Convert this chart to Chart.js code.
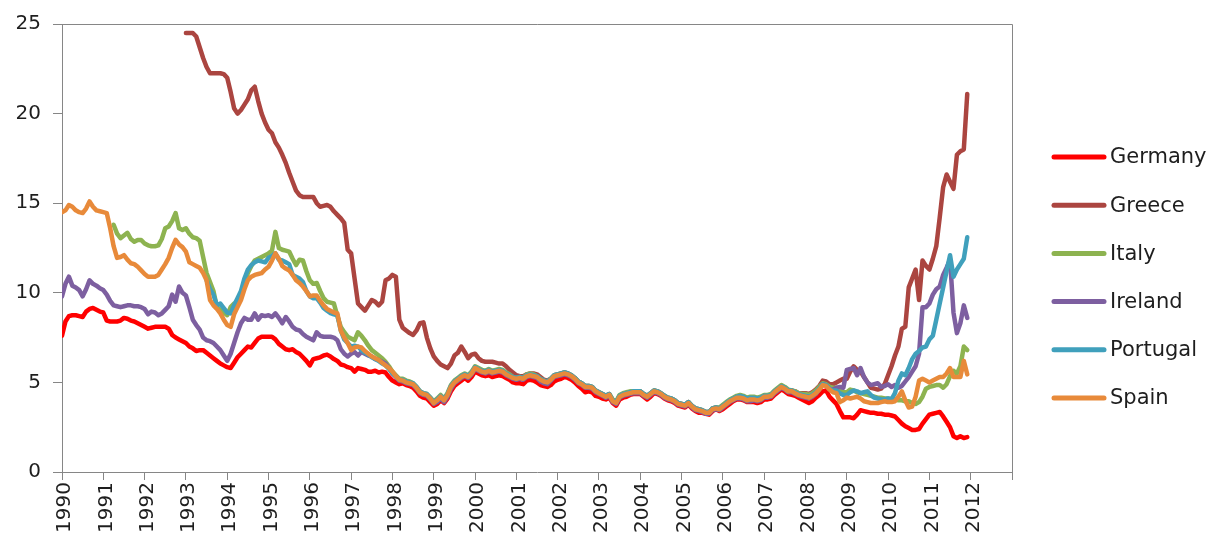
<!DOCTYPE html>
<html>
<head>
<meta charset="utf-8">
<script src="https://cdn.jsdelivr.net/npm/chart.js@4.4.0/dist/chart.umd.min.js"></script>
<style>
  html, body { margin: 0; padding: 0; background: #fff; }
  #wrap { width: 1218px; height: 546px; position: relative; }
</style>
</head>
<body>
<div id="wrap"><canvas id="yieldChart"></canvas></div>
<script>
// --- Monthly long-term government bond yields (%), Jan 1990 - Dec 2011 ---
const firstYear = 1990;
const lastYear = 2013;          // last tick on the axis, no label
const yMin = 0, yMax = 25, yStep = 5;

const countries = ['Germany', 'Greece', 'Italy', 'Ireland', 'Portugal', 'Spain'];
const lineColors = ['#ff0000', '#ab4540', '#8db350', '#7d5fa0', '#40a0bc', '#e88a3a'];
// first month of each series, as a fractional year
const seriesStart = [1990, 1993, 1991.25, 1990, 1993.5, 1990];

const germany = [
  7.6, 8.4, 8.7, 8.75, 8.75, 8.7, 8.65, 8.95, 9.1, 9.15, 9.05, 8.95,
  8.9, 8.45, 8.4, 8.4, 8.4, 8.45, 8.6, 8.55, 8.45, 8.4, 8.3, 8.2,
  8.1, 8.0, 8.05, 8.1, 8.1, 8.1, 8.1, 8.0, 7.65, 7.5, 7.4, 7.3,
  7.2, 7.0, 6.9, 6.75, 6.8, 6.8, 6.65, 6.5, 6.35, 6.2, 6.05, 5.95,
  5.85, 5.8, 6.1, 6.4, 6.6, 6.8, 7.0, 6.95, 7.2, 7.45, 7.55, 7.55,
  7.55, 7.55, 7.4, 7.15, 7.0, 6.85, 6.8, 6.85, 6.7, 6.6, 6.4, 6.2,
  5.95, 6.3, 6.35, 6.4, 6.5, 6.55, 6.45, 6.3, 6.2, 6.0, 5.95, 5.85,
  5.8, 5.6, 5.8, 5.75, 5.7, 5.6, 5.6, 5.65, 5.55, 5.6, 5.55, 5.3,
  5.1, 5.0, 4.9, 4.95, 4.85, 4.8, 4.7, 4.5, 4.25, 4.15, 4.1, 3.9,
  3.7, 3.8, 4.0, 3.85, 4.1, 4.5, 4.8, 4.95, 5.1, 5.25, 5.1, 5.3,
  5.6, 5.5, 5.4, 5.35, 5.4, 5.3, 5.35, 5.4, 5.35, 5.25, 5.15, 5.0,
  4.95, 4.95, 4.9, 5.1, 5.15, 5.1, 5.0, 4.85, 4.8, 4.75, 4.85, 5.05,
  5.15, 5.2, 5.3, 5.25, 5.15, 5.0, 4.8, 4.65, 4.45, 4.5, 4.45, 4.25,
  4.2, 4.1, 4.05, 4.15, 3.85, 3.7, 4.05, 4.15, 4.2, 4.3, 4.35, 4.35,
  4.35, 4.2, 4.05, 4.2, 4.4, 4.35, 4.25, 4.1, 4.0, 3.95, 3.85, 3.7,
  3.65, 3.6, 3.75, 3.55, 3.4, 3.3, 3.3, 3.25, 3.2, 3.4, 3.5, 3.4,
  3.5, 3.65, 3.8, 3.95, 4.05, 4.05, 4.0, 3.9, 3.9, 3.9, 3.85, 3.9,
  4.05, 4.05, 4.1, 4.3, 4.45, 4.6, 4.5, 4.35, 4.3, 4.25, 4.15, 4.05,
  3.95, 3.85, 3.95, 4.15, 4.3, 4.5, 4.55, 4.2, 4.0, 3.8, 3.4, 3.05,
  3.05, 3.05, 3.0, 3.2, 3.45, 3.4, 3.35, 3.3, 3.3, 3.25, 3.25, 3.2,
  3.2, 3.15, 3.1, 2.9, 2.7, 2.55, 2.45, 2.35, 2.35, 2.4, 2.7, 2.95,
  3.2, 3.25, 3.3, 3.35, 3.1, 2.8, 2.5, 2.0, 1.9, 2.0, 1.9, 1.95
];

const greece = [
  24.5, 24.5, 24.5, 24.3, 23.7, 23.1, 22.6, 22.25, 22.25, 22.25, 22.25, 22.2,
  22.0, 21.2, 20.3, 20.0, 20.2, 20.5, 20.8, 21.3, 21.5, 20.7, 20.0, 19.5,
  19.1, 18.9, 18.4, 18.1, 17.7, 17.25, 16.7, 16.2, 15.7, 15.45, 15.35, 15.35,
  15.35, 15.35, 15.0, 14.8, 14.85, 14.9, 14.8, 14.55, 14.35, 14.15, 13.9, 12.4,
  12.2, 10.8, 9.4, 9.2, 9.0, 9.3, 9.6, 9.5, 9.3, 9.5, 10.7, 10.8,
  11.0, 10.9, 8.5, 8.05, 7.9, 7.75, 7.65, 7.9, 8.3, 8.35, 7.5, 6.9,
  6.45, 6.2, 6.0, 5.9, 5.8, 6.05, 6.5, 6.65, 7.0, 6.7, 6.35, 6.55,
  6.6, 6.35, 6.2, 6.15, 6.15, 6.15, 6.1, 6.05, 6.05, 5.9, 5.7, 5.55,
  5.4, 5.35, 5.35, 5.45, 5.5, 5.5, 5.45, 5.3, 5.15, 5.1, 5.2, 5.4,
  5.45, 5.5, 5.55, 5.5, 5.4, 5.25, 5.05, 4.95, 4.8, 4.8, 4.75, 4.55,
  4.45, 4.35, 4.25, 4.35, 4.0, 3.9, 4.25, 4.35, 4.4, 4.45, 4.5, 4.5,
  4.5, 4.35, 4.25, 4.4, 4.55, 4.5, 4.4, 4.25, 4.15, 4.1, 4.0, 3.85,
  3.8, 3.75, 3.9, 3.7, 3.55, 3.5, 3.45, 3.35, 3.35, 3.55, 3.6, 3.55,
  3.7, 3.85, 4.0, 4.1, 4.2, 4.2, 4.15, 4.05, 4.1, 4.1, 4.05, 4.1,
  4.25, 4.25, 4.3, 4.5, 4.65, 4.8, 4.7, 4.55, 4.55, 4.5, 4.4, 4.4,
  4.4, 4.35, 4.45, 4.6, 4.8, 5.1, 5.05, 4.9, 4.9, 5.0, 5.1, 5.2,
  5.2, 5.6, 5.9, 5.7, 5.6, 5.3, 5.0, 4.7, 4.65, 4.6, 4.65, 4.9,
  5.4, 5.9, 6.5, 7.0, 8.0, 8.1, 10.3, 10.8, 11.3, 9.6, 11.8, 11.5,
  11.3, 11.9, 12.6, 14.2, 15.9, 16.6, 16.2, 15.8, 17.7, 17.9, 18.0, 21.1
];

const italy = [
  13.8, 13.3, 13.05, 13.2, 13.35, 13.0, 12.85, 12.95, 12.95,
  12.75, 12.65, 12.6, 12.6, 12.65, 13.0, 13.6, 13.7, 14.0, 14.45, 13.6, 13.5,
  13.6, 13.3, 13.1, 13.05, 12.9, 12.0, 11.1, 10.6, 10.1, 9.2, 9.05, 8.9,
  8.75, 9.2, 9.4, 9.4, 10.0, 10.6, 11.1, 11.5, 11.8, 11.9, 12.0, 12.1,
  12.2, 12.35, 13.4, 12.5, 12.4, 12.35, 12.3, 11.9, 11.55, 11.85, 11.8, 11.2,
  10.7, 10.5, 10.55, 10.1, 9.7, 9.5, 9.45, 9.4, 8.7, 8.1, 7.8, 7.55,
  7.45, 7.35, 7.8, 7.6, 7.35, 7.05, 6.8, 6.65, 6.5, 6.35, 6.15, 5.9,
  5.6, 5.4, 5.2, 5.2, 5.1, 5.05, 4.95, 4.75, 4.5, 4.4, 4.35, 4.15,
  3.95, 4.1, 4.3, 4.1, 4.4, 4.85, 5.1, 5.25, 5.4, 5.5, 5.4, 5.6,
  5.9, 5.8, 5.7, 5.65, 5.75, 5.65, 5.7, 5.75, 5.7, 5.55, 5.45, 5.3,
  5.25, 5.3, 5.25, 5.45, 5.5, 5.45, 5.35, 5.2, 5.1, 5.05, 5.2, 5.4,
  5.45, 5.5, 5.55, 5.5, 5.4, 5.25, 5.05, 4.95, 4.8, 4.8, 4.75, 4.55,
  4.45, 4.35, 4.25, 4.35, 4.05, 3.95, 4.3, 4.4, 4.45, 4.5, 4.5, 4.5,
  4.5, 4.35, 4.25, 4.4, 4.55, 4.5, 4.4, 4.25, 4.15, 4.1, 4.0, 3.85,
  3.8, 3.75, 3.9, 3.7, 3.55, 3.5, 3.45, 3.35, 3.35, 3.55, 3.6, 3.6,
  3.75, 3.9, 4.05, 4.15, 4.25, 4.3, 4.25, 4.15, 4.2, 4.2, 4.15, 4.2,
  4.3, 4.3, 4.35, 4.55, 4.7, 4.85, 4.75, 4.6, 4.55, 4.5, 4.4, 4.35,
  4.35, 4.3, 4.4, 4.55, 4.75, 4.95, 4.9, 4.75, 4.7, 4.7, 4.55, 4.45,
  4.45, 4.6, 4.55, 4.45, 4.4, 4.35, 4.3, 4.25, 4.2, 4.15, 4.15, 4.1,
  4.1, 4.05, 4.05, 4.0, 4.0, 3.95, 3.95, 3.85, 3.8, 3.9, 4.2, 4.65,
  4.75, 4.8, 4.85, 4.85, 4.7, 4.9, 5.35, 5.65, 5.5, 5.9, 7.0, 6.8
];

const ireland = [
  9.8, 10.5, 10.9, 10.4, 10.3, 10.15, 9.8, 10.2, 10.7, 10.5, 10.4, 10.25,
  10.15, 9.9, 9.55, 9.3, 9.25, 9.2, 9.25, 9.3, 9.3, 9.25, 9.25, 9.2,
  9.1, 8.8, 8.95, 8.9, 8.75, 8.85, 9.05, 9.25, 9.9, 9.5, 10.35, 10.0,
  9.85, 9.2, 8.5, 8.2, 7.95, 7.5, 7.35, 7.3, 7.2, 7.0, 6.8, 6.5,
  6.2, 6.6, 7.2, 7.8, 8.3, 8.6, 8.5, 8.5, 8.85, 8.5, 8.75, 8.7,
  8.75, 8.65, 8.85, 8.6, 8.3, 8.65, 8.4, 8.1, 7.95, 7.9, 7.7, 7.55,
  7.45, 7.35, 7.8, 7.6, 7.55, 7.55, 7.55, 7.5, 7.35, 6.85, 6.6, 6.45,
  6.6, 6.7, 6.5, 6.7, 6.6, 6.5, 6.45, 6.3, 6.25, 6.15, 6.05, 5.8,
  5.5, 5.3, 5.1, 5.05, 4.95, 4.9, 4.85, 4.65, 4.4, 4.3, 4.25, 4.05,
  3.8, 3.9, 4.1, 3.9, 4.2, 4.65, 4.95, 5.1, 5.25, 5.35, 5.25, 5.45,
  5.75, 5.65, 5.55, 5.5, 5.6, 5.5, 5.55, 5.6, 5.55, 5.4, 5.3, 5.2,
  5.15, 5.2, 5.15, 5.3, 5.35, 5.3, 5.25, 5.05, 4.95, 4.9, 5.1, 5.3,
  5.35, 5.4, 5.45, 5.4, 5.3, 5.15, 4.95, 4.85, 4.7, 4.7, 4.65, 4.45,
  4.35, 4.25, 4.15, 4.25, 3.9, 3.8, 4.15, 4.25, 4.3, 4.35, 4.4, 4.4,
  4.4, 4.25, 4.15, 4.3, 4.45, 4.4, 4.3, 4.15, 4.05, 4.0, 3.9, 3.75,
  3.7, 3.65, 3.8, 3.6, 3.45, 3.4, 3.35, 3.25, 3.25, 3.45, 3.5, 3.45,
  3.6, 3.75, 3.9, 4.0, 4.1, 4.1, 4.05, 3.95, 3.95, 4.0, 3.95, 4.0,
  4.15, 4.15, 4.2, 4.4, 4.55, 4.7, 4.6, 4.45, 4.45, 4.35, 4.25, 4.2,
  4.15, 4.1, 4.2, 4.35, 4.6, 4.9, 4.85, 4.6, 4.6, 4.7, 4.75, 4.7,
  5.7, 5.75, 5.8, 5.4, 5.8, 5.3, 5.0, 4.85, 4.9, 4.95, 4.75, 4.8,
  4.9, 4.75, 4.85, 4.7, 4.8, 5.05, 5.3, 5.6, 5.9, 6.6, 9.2, 9.2,
  9.4, 9.9, 10.2, 10.35, 11.0, 11.4, 11.85, 8.9, 7.75, 8.3, 9.3, 8.6
];

const portugal = [
  10.7, 10.2, 9.9, 9.3, 9.4, 9.15,
  8.9, 8.85, 9.3, 9.7, 10.1, 10.8, 11.3, 11.55, 11.7, 11.8, 11.75, 11.7,
  11.95, 12.05, 12.2, 11.85, 11.8, 11.7, 11.6, 11.0, 10.9, 10.8, 10.6, 10.1,
  9.8, 9.7, 9.7, 9.45, 9.15, 9.0, 8.87, 8.8, 8.75, 7.9, 7.4, 7.2,
  7.0, 7.05, 7.0, 6.8, 6.65, 6.55, 6.4, 6.3, 6.2, 6.05, 5.95, 5.75,
  5.5, 5.35, 5.15, 5.15, 5.05, 5.0, 4.95, 4.75, 4.5, 4.4, 4.35, 4.15,
  3.9, 4.05, 4.25, 4.05, 4.35, 4.8, 5.05, 5.2, 5.35, 5.45, 5.35, 5.55,
  5.85, 5.75, 5.65, 5.6, 5.7, 5.6, 5.65, 5.7, 5.65, 5.5, 5.4, 5.3,
  5.25, 5.3, 5.25, 5.4, 5.45, 5.4, 5.35, 5.2, 5.1, 5.05, 5.2, 5.4,
  5.45, 5.5, 5.55, 5.5, 5.4, 5.25, 5.05, 4.95, 4.8, 4.8, 4.75, 4.55,
  4.45, 4.35, 4.25, 4.35, 4.0, 3.9, 4.25, 4.35, 4.4, 4.45, 4.5, 4.5,
  4.5, 4.35, 4.25, 4.4, 4.55, 4.5, 4.4, 4.25, 4.15, 4.1, 4.0, 3.85,
  3.8, 3.75, 3.9, 3.7, 3.55, 3.5, 3.45, 3.35, 3.35, 3.55, 3.6, 3.55,
  3.7, 3.85, 4.0, 4.1, 4.2, 4.25, 4.2, 4.1, 4.15, 4.15, 4.1, 4.15,
  4.25, 4.25, 4.3, 4.5, 4.65, 4.8, 4.7, 4.55, 4.55, 4.45, 4.35, 4.3,
  4.25, 4.2, 4.3, 4.45, 4.65, 4.9, 4.85, 4.65, 4.55, 4.55, 4.4, 4.3,
  4.3, 4.45, 4.55, 4.5, 4.4, 4.45, 4.5, 4.3, 4.15, 4.1, 4.05, 4.05,
  4.1, 4.05, 4.4, 5.1, 5.5, 5.4, 5.8, 6.3, 6.6, 6.75, 6.95, 7.0,
  7.4, 7.6, 8.5, 9.4, 10.3, 11.2, 12.1, 10.9, 11.3, 11.6, 11.9, 13.1
];

const spain = [
  14.5, 14.6, 14.9, 14.8, 14.6, 14.5, 14.45, 14.7, 15.1, 14.8, 14.6, 14.55,
  14.5, 14.45, 13.6, 12.6, 11.95, 12.0, 12.1, 11.85, 11.65, 11.6, 11.45, 11.25,
  11.05, 10.9, 10.9, 10.9, 11.0, 11.3, 11.6, 11.95, 12.5, 12.95, 12.7, 12.55,
  12.3, 11.7, 11.6, 11.5, 11.4, 11.1, 10.7, 9.6, 9.3, 9.1, 8.85, 8.5,
  8.2, 8.1, 8.8, 9.2, 9.6, 10.2, 10.7, 10.9, 11.0, 11.05, 11.1, 11.3,
  11.45, 11.8, 12.2, 11.9, 11.5, 11.35, 11.25, 11.0, 10.7, 10.55, 10.35, 10.1,
  9.8, 9.85, 9.85, 9.55, 9.3, 9.1, 9.0, 8.9, 8.85, 7.9, 7.5, 7.2,
  6.8, 6.95, 7.0, 6.95, 6.75, 6.6, 6.45, 6.35, 6.25, 6.1, 5.95, 5.8,
  5.6, 5.35, 5.15, 5.1, 5.0, 4.95, 4.9, 4.7, 4.45, 4.35, 4.3, 4.1,
  3.85, 4.0, 4.2, 4.0, 4.3, 4.75, 5.0, 5.15, 5.3, 5.4, 5.3, 5.5,
  5.8, 5.7, 5.6, 5.55, 5.65, 5.55, 5.6, 5.65, 5.6, 5.45, 5.35, 5.25,
  5.2, 5.25, 5.2, 5.35, 5.4, 5.35, 5.3, 5.15, 5.05, 5.0, 5.15, 5.35,
  5.4, 5.45, 5.5, 5.45, 5.35, 5.2, 5.0, 4.9, 4.75, 4.75, 4.7, 4.5,
  4.4, 4.3, 4.2, 4.3, 3.95, 3.85, 4.2, 4.3, 4.35, 4.4, 4.45, 4.45,
  4.45, 4.3, 4.2, 4.35, 4.5, 4.45, 4.35, 4.2, 4.1, 4.05, 3.95, 3.8,
  3.75, 3.7, 3.85, 3.65, 3.5, 3.45, 3.4, 3.3, 3.3, 3.5, 3.55, 3.5,
  3.65, 3.8, 3.95, 4.05, 4.15, 4.15, 4.1, 4.0, 4.05, 4.05, 4.0, 4.05,
  4.2, 4.2, 4.25, 4.45, 4.6, 4.75, 4.65, 4.5, 4.5, 4.4, 4.3, 4.25,
  4.2, 4.15, 4.25, 4.4, 4.6, 4.85, 4.8, 4.6, 4.45, 4.4, 3.9, 4.0,
  4.15, 4.1, 4.15, 4.2, 4.1, 3.95, 3.9, 3.85, 3.85, 3.85, 3.9, 3.95,
  3.9, 3.9, 3.95, 4.2, 4.5, 4.0, 3.6, 3.65, 4.2, 5.1, 5.2, 5.1,
  5.0, 5.1, 5.2, 5.3, 5.3, 5.5, 5.8, 5.3, 5.3, 5.3, 6.2, 5.45
];

const seriesValues = [germany, greece, italy, ireland, portugal, spain];

// --- turn monthly values into {x: year, y: value} points ---
function toPoints(values, from) {
  return values.map((v, i) => ({ x: from + i / 12, y: v }));
}

const axisGrey = '#868686';
const textColor = '#1e1e1e';
const tickFont = { family: 'DejaVu Sans', size: 20 };

const datasets = countries.map((name, i) => ({
  label: name,
  data: toPoints(seriesValues[i], seriesStart[i]),
  borderColor: lineColors[i],
  backgroundColor: lineColors[i],
  borderWidth: 4.5,
  borderJoinStyle: 'round',
  borderCapStyle: 'round',
  pointRadius: 0,
  tension: 0,
  order: countries.length - i   // later series on top, like the original
}));

// --- frame round the plot area + legend on the right ---
const frameAndLegend = {
  id: 'frameAndLegend',
  beforeDatasetsDraw(chart) {
    const { ctx, chartArea: a } = chart;
    ctx.save();
    ctx.strokeStyle = axisGrey;
    ctx.lineWidth = 1;
    ctx.beginPath();
    ctx.moveTo(a.left, a.top + 0.5);
    ctx.lineTo(a.right + 0.5, a.top + 0.5);
    ctx.lineTo(a.right + 0.5, a.bottom);
    ctx.stroke();
    ctx.restore();
  },
  afterDraw(chart) {
    const ctx = chart.ctx;
    ctx.save();
    ctx.font = '21px "DejaVu Sans"';
    ctx.textBaseline = 'middle';
    chart.data.datasets.forEach((ds, i) => {
      const y = 157 + i * 48.2;
      ctx.strokeStyle = ds.borderColor;
      ctx.lineWidth = 5;
      ctx.lineCap = 'round';
      ctx.beginPath();
      ctx.moveTo(1054, y);
      ctx.lineTo(1104, y);
      ctx.stroke();
      ctx.fillStyle = textColor;
      ctx.fillText(ds.label, 1110, y + 1);
    });
    ctx.restore();
  }
};

new Chart(document.getElementById('yieldChart'), {
  type: 'line',
  data: { datasets },
  options: {
    responsive: true,
    maintainAspectRatio: false,
    animation: false,
    layout: { padding: { top: 24, right: 206, bottom: 0, left: 0 } },
    plugins: {
      legend: { display: false },
      tooltip: { enabled: false }
    },
    scales: {
      x: {
        type: 'linear',
        min: firstYear,
        max: lastYear,
        afterFit: s => { s.height = 74; },
        grid: { drawOnChartArea: false, drawTicks: true, tickLength: 8, color: axisGrey },
        border: { color: axisGrey, width: 1 },
        ticks: {
          stepSize: 1,
          autoSkip: false,
          minRotation: 90,
          maxRotation: 90,
          padding: 2,
          labelOffset: 3,
          color: textColor,
          font: tickFont,
          callback: v => (v === lastYear ? '' : String(v))
        }
      },
      y: {
        min: yMin,
        max: yMax,
        afterFit: s => { s.width = 62; },
        grid: { drawOnChartArea: false, drawTicks: true, tickLength: 9, color: axisGrey },
        border: { color: axisGrey, width: 1 },
        ticks: {
          stepSize: yStep,
          padding: 12,
          color: textColor,
          font: tickFont
        }
      }
    }
  },
  plugins: [frameAndLegend]
});
</script>
</body>
</html>
